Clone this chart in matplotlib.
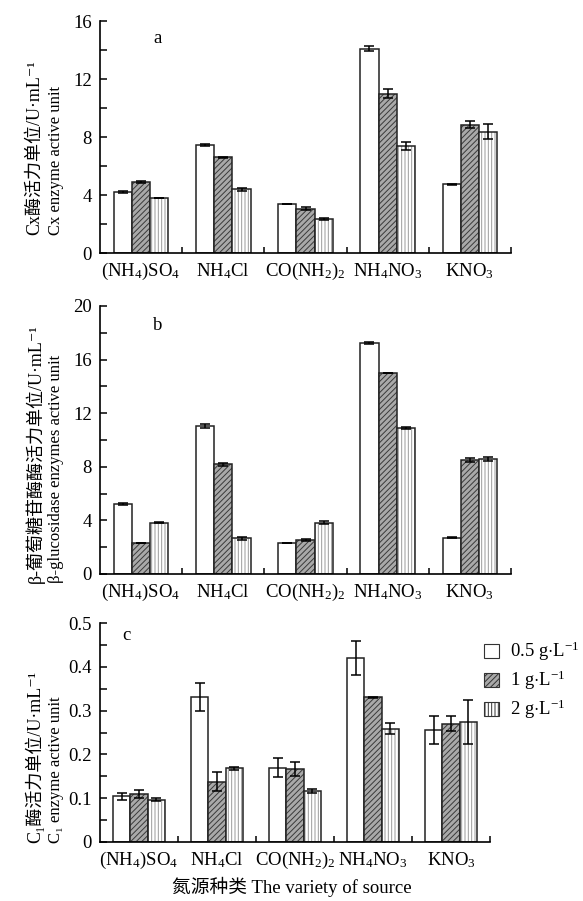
import matplotlib
matplotlib.use('Agg')
import matplotlib.pyplot as plt
import numpy as np
from matplotlib.patches import Patch

plt.rcParams['font.family'] = ['Liberation Serif', 'Noto Sans CJK SC', 'DejaVu Sans']
plt.rcParams['mathtext.fontset'] = 'custom'
plt.rcParams['mathtext.rm'] = 'Liberation Serif'
plt.rcParams['mathtext.it'] = 'Liberation Serif:italic'
plt.rcParams['hatch.linewidth'] = 0.7

# nitrogen sources and doses
sources = [r'(NH$_4$)SO$_4$', r'NH$_4$Cl', r'CO(NH$_2$)$_2$', r'NH$_4$NO$_3$', r'KNO$_3$']
doses = [r'0.5 g$\cdot$L$^{-1}$', r'1 g$\cdot$L$^{-1}$', r'2 g$\cdot$L$^{-1}$']

# a: Cx enzyme
cx_05 = [4.2, 7.45, 3.4, 14.1, 4.75]
cx_1 = [4.9, 6.6, 3.05, 11.0, 8.85]
cx_2 = [3.8, 4.4, 2.35, 7.4, 8.35]
cx_05_err = [0.05, 0.08, 0.0, 0.2, 0.03]
cx_1_err = [0.07, 0.05, 0.1, 0.32, 0.23]
cx_2_err = [0.0, 0.1, 0.04, 0.27, 0.52]

# b: beta-glucosidase
bg_05 = [5.25, 11.05, 2.35, 17.25, 2.7]
bg_1 = [2.35, 8.2, 2.55, 15.0, 8.5]
bg_2 = [3.83, 2.65, 3.83, 10.9, 8.55]
bg_05_err = [0.08, 0.12, 0.0, 0.08, 0.03]
bg_1_err = [0.0, 0.12, 0.05, 0.02, 0.12]
bg_2_err = [0.03, 0.12, 0.1, 0.05, 0.15]

# c: C1 enzyme
c1_05 = [0.105, 0.33, 0.17, 0.42, 0.256]
c1_1 = [0.11, 0.138, 0.166, 0.33, 0.27]
c1_2 = [0.097, 0.168, 0.117, 0.259, 0.274]
c1_05_err = [0.008, 0.032, 0.021, 0.038, 0.032]
c1_1_err = [0.009, 0.021, 0.016, 0.001, 0.017]
c1_2_err = [0.004, 0.003, 0.005, 0.013, 0.05]

W = 583
H = 901
fig = plt.figure(figsize=(W / 100, H / 100), dpi=100)


def px_axes(left, right, top, bottom):
    return fig.add_axes([left / W, 1 - bottom / H, (right - left) / W, (bottom - top) / H])


ax_a = px_axes(100, 511, 21, 253)
ax_b = px_axes(100, 511, 306, 574)
ax_c = px_axes(100, 490, 623, 842)

bw = 0.222
x = np.arange(len(sources))
styles = [
    dict(color='white', hatch=None, hcol='black'),
    dict(color='#a9a9a9', hatch='//////', hcol='#3a3a3a'),
    dict(color='white', hatch='|||||', hcol='#9a9a9a'),
]


def draw_panel(ax, vals, errs, ymax, major, minor, ticklabels, letter, letter_xy):
    for i, (v, e, st) in enumerate(zip(vals, errs, styles)):
        xi = x + (i - 1) * bw
        if st['hatch']:
            ax.bar(xi, v, bw, color=st['color'], hatch=st['hatch'], edgecolor=st['hcol'], linewidth=0)
        ax.bar(xi, v, bw, color=st['color'] if not st['hatch'] else 'none', edgecolor='#222222', linewidth=1.1)
        ax.errorbar(xi, v, yerr=e, fmt='none', ecolor='black', elinewidth=1.1, capsize=3.5, capthick=1.1)
    ax.set_xlim(-0.5, 4.5)
    ax.set_ylim(0, ymax)
    ax.spines['top'].set_visible(False)
    ax.spines['right'].set_visible(False)
    ax.spines['left'].set_linewidth(1.2)
    ax.spines['bottom'].set_linewidth(1.2)
    ax.set_yticks(major)
    ax.set_yticklabels(ticklabels, fontsize=13.5)
    ax.set_yticks(minor, minor=True)
    ax.tick_params(axis='y', which='both', direction='in', length=5, width=1.1, pad=6)
    ax.set_xticks(x + 0.5)
    ax.set_xticklabels([])
    ax.set_xticks(x, minor=True)
    ax.set_xticklabels(sources, minor=True, fontsize=13.5)
    ax.tick_params(axis='x', which='major', direction='in', length=4, width=1.1)
    ax.tick_params(axis='x', which='minor', length=0, pad=6)
    ax.text(letter_xy[0], letter_xy[1], letter, fontsize=13.5)


draw_panel(ax_a, [cx_05, cx_1, cx_2], [cx_05_err, cx_1_err, cx_2_err], 16,
           np.arange(0, 17, 4), np.arange(2, 16, 4), ['0', '4', '8', '12', '16'], 'a', (0.15, 14.5))
draw_panel(ax_b, [bg_05, bg_1, bg_2], [bg_05_err, bg_1_err, bg_2_err], 20,
           np.arange(0, 21, 4), np.arange(2, 20, 4), ['0', '4', '8', '12', '16', '20'], 'b', (0.15, 18.2))
draw_panel(ax_c, [c1_05, c1_1, c1_2], [c1_05_err, c1_1_err, c1_2_err], 0.5,
           np.arange(0, 0.51, 0.1), np.arange(0.05, 0.5, 0.1), ['0', '0.1', '0.2', '0.3', '0.4', '0.5'], 'c', (-0.22, 0.462))

# two-line y labels, bottom aligned
ylabels = [
    ('Cx酶活力单位/U·mL⁻¹', 'Cx enzyme active unit', 235),
    ('β-葡萄糖苷酶酶活力单位/U·mL⁻¹', 'β-glucosidase enzymes active unit', 583),
    ('C₁酶活力单位/U·mL⁻¹', 'C₁ enzyme active unit', 843),
]
for l1, l2, yb in ylabels:
    fig.text(35 / W, 1 - yb / H, l1, rotation=90, ha='center', va='bottom', fontsize=13)
    fig.text(56 / W, 1 - yb / H, l2, rotation=90, ha='center', va='bottom', fontsize=12)

fig.text(292 / W, 1 - 887 / H, '氮源种类 The variety of source', ha='center', va='center', fontsize=13.5)

handles = [Patch(facecolor=st['color'], hatch=st['hatch'], edgecolor='#333333', linewidth=0.8) for st in styles]
fig.legend(handles, doses, loc='upper left', bbox_to_anchor=(484 / W, 1 - 640 / H), frameon=False,
           fontsize=13.5, handlelength=0.8, handleheight=0.8, handletextpad=0.6, labelspacing=0.3,
           borderpad=0, borderaxespad=0)

fig.savefig('out.png', dpi=100)
